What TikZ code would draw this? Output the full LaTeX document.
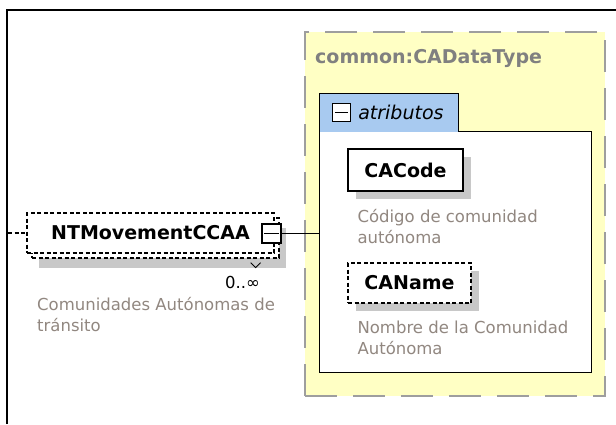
\documentclass[tikz,border=0pt]{standalone}
\usepackage{fontspec}
\setmainfont{DejaVu Sans}
\usepackage{xcolor}
\usetikzlibrary{positioning}
\definecolor{typefill}{RGB}{255,255,196}
\definecolor{typeline}{RGB}{158,158,158}
\definecolor{typename}{RGB}{128,128,128}
\definecolor{tabfill}{RGB}{168,202,240}
\definecolor{shade}{RGB}{200,200,200}
\definecolor{doctext}{RGB}{145,135,128}

\begin{document}
\begin{tikzpicture}[x=1pt,y=-1pt,
  el/.style={rectangle,fill=white,draw,line width=1.3pt,inner sep=0pt,
    font=\fontsize{19}{22}\selectfont\bfseries},
  optel/.style={el,dash pattern=on 4pt off 2.5pt},
  shad/.style={rectangle,fill=shade,inner sep=0pt},
  doc/.style={text=doctext,align=left,inner sep=0pt,
    font=\fontsize{16.5}{21.5}\selectfont},
  btn/.style={draw,fill=white,line width=1.3pt,minimum size=19pt,inner sep=0pt},
  ln/.style={line width=1.3pt}]
\useasboundingbox (0,0) rectangle (616,424);
\draw[line width=1.5pt] (7,424) -- (7,10) -- (616,10);

% complex type
\node[draw=typeline,fill=typefill,line width=2.5pt,dash pattern=on 32pt off 16pt,
  minimum width=300pt,minimum height=364pt,inner sep=0pt] (cadt) at (455,214) {};
\node[anchor=base west,inner sep=0pt,text=typename,
  font=\fontsize{19}{22}\selectfont\bfseries] (cadtname) at (315,63) {common:CADataType};

% attribute group
\node[fill=white,minimum width=271pt,minimum height=240pt,inner sep=0pt] (attr) at (455.5,252) {};
\node[fill=tabfill,minimum width=138pt,minimum height=38pt,inner sep=0pt,
  anchor=south west] (tab) at (attr.north west) {};
\draw[ln] (tab.south east) -- (attr.north east) -- (attr.south east)
  -- (attr.south west) -- (tab.north west) -- (tab.north east) -- (tab.south east);
\node[btn,minimum size=18pt,right=12pt of tab.west] (tabbtn) {};
\draw[ln] ([xshift=3pt]tabbtn.west) -- ([xshift=-3pt]tabbtn.east);
\node[right=7pt of tabbtn,inner sep=0pt,font=\fontsize{19}{20}\selectfont\itshape] (tablbl) {atributos};

\node[shad,minimum width=115pt,minimum height=42pt] (cacodeshad) at (413.5,178) {};
\node[el,minimum width=115pt,minimum height=42pt] (cacode) at (405.5,170) {CACode};
\node[doc,below right=17pt and 10pt of cacode.south west] (cacodedoc)
  {Código de comunidad\\autónoma};

\node[shad,minimum width=123pt,minimum height=40pt] (canameshad) at (417.5,291) {};
\node[optel,minimum width=123pt,minimum height=40pt] (caname) at (409.5,283) {CAName};
\node[doc,below right=17pt and 10pt of caname.south west] (canamedoc)
  {Nombre de la Comunidad\\Autónoma};

% element
\node[shad,minimum width=247pt,minimum height=40pt] (ntshad) at (162.5,248) {};
\node[optel,minimum width=247pt,minimum height=40pt] (ntback) at (155.5,238) {};
\node[optel,minimum width=247pt,minimum height=40pt] (nt) at (150.5,233) {NTMovementCCAA};
\node[btn] (ntbtn) at (271.5,233.5) {};
\draw[ln] ([xshift=3pt]ntbtn.west) -- ([xshift=-3pt]ntbtn.east);
\draw[line width=0.8pt] ([shift={(-29,4)}]ntback.south east) -- ([shift={(-24,9)}]ntback.south east)
  -- ([shift={(-19,4)}]ntback.south east);
\node[anchor=base east,inner sep=0pt,font=\fontsize{16.5}{18}\selectfont] (ntmult) at (260,288) {0..∞};
\node[doc,anchor=north west] (ntdoc) at (37,297) {Comunidades Autónomas de\\tránsito};

\coordinate (inlet) at (8,233);
\draw[ln,dash pattern=on 4pt off 2.5pt] (inlet) -- (nt.west);
\draw[ln] (ntbtn.east) -- (ntbtn.east -| attr.west);
\end{tikzpicture}
\end{document}
